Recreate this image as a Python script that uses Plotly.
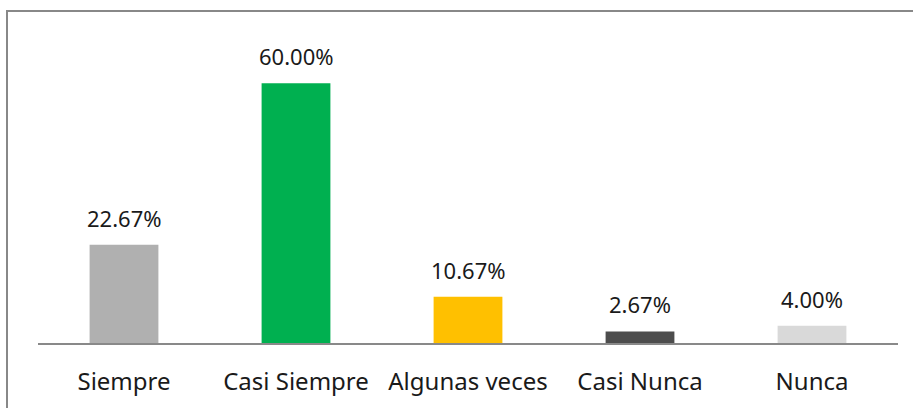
import plotly.graph_objects as go

categories = ["Siempre", "Casi Siempre", "Algunas veces", "Casi Nunca", "Nunca"]
values = [22.67, 60.00, 10.67, 2.67, 4.00]
colors = ["#B0B0B0", "#00B050", "#FFC000", "#4D4D4D", "#D9D9D9"]

W, H = 913, 408
L, R, T, B = 38, 15, 40, 65
pw, ph = W - L - R, H - T - B

fig = go.Figure(go.Bar(
    x=categories, y=values,
    marker=dict(color=colors, line=dict(width=0)),
    hoverinfo="x+y",
))

annotations = [
    dict(x=c, y=v, xref="x", yref="y", text=f"{v:.2f}%", showarrow=False,
         yanchor="middle", yshift=27,
         font=dict(family="Noto Sans", size=22, color="#1a1a1a"))
    for c, v in zip(categories, values)
]

fig.update_layout(
    width=W, height=H,
    margin=dict(l=L, r=R, t=T, b=B),
    paper_bgcolor="white", plot_bgcolor="white",
    bargap=0.6, showlegend=False,
    xaxis=dict(showline=True, linecolor="#898989", linewidth=1.5,
               ticks="", tickfont=dict(family="Noto Sans", size=24, color="#1a1a1a"),
               ticklabelstandoff=16, showgrid=False),
    yaxis=dict(range=[0, 70], visible=False, showgrid=False),
    annotations=annotations,
    shapes=[dict(type="rect", xref="paper", yref="paper",
                 x0=(7 - L) / pw, x1=(W + 20 - L) / pw,
                 y0=-(B + 20) / ph, y1=(H - B - 11) / ph,
                 line=dict(color="#888888", width=2), fillcolor="rgba(0,0,0,0)", layer="below")],
)

fig.write_html("out.html", config={"displayModeBar": False},
               post_script="document.body.style.margin='0';")
